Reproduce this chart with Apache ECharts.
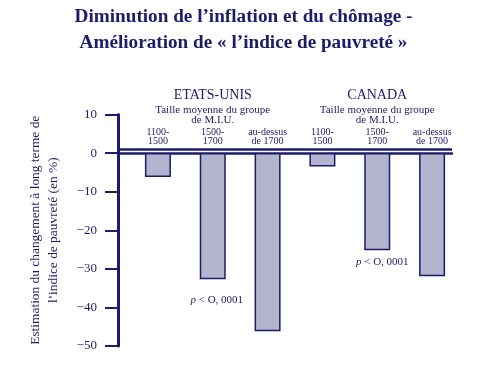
<!DOCTYPE html>
<html><head><meta charset="utf-8">
<script src="https://cdn.jsdelivr.net/npm/echarts@6/dist/echarts.min.js"></script>
<style>html,body{margin:0;padding:0;background:#fff}#c{width:487px;height:373px}</style>
</head><body><div id="c"></div>
<script>
const titleLines = ["Diminution de l’inflation et du chômage -", "Amélioration de « l’indice de pauvreté »"];
const countries = ["ETATS-UNIS", "CANADA"];
const groupSubtitle = ["Taille moyenne du groupe", "de M.I.U."];
const categories = ["1100-\n1500", "1500-\n1700", "au-dessus\nde 1700", "1100-\n1500", "1500-\n1700", "au-dessus\nde 1700"];
const values = [-6.2, -32.7, -46.2, -3.5, -25.2, -31.9];
const pNotes = ["", "p < O, 0001", "", "", "p < O, 0001", ""];
const yTicks = [10, 0, -10, -20, -30, -40, -50];
const yName = "Estimation du changement à long terme de\nl’indice de pauvreté (en %)";
const upperRule = 1.0;

const NAVY = '#1c1c6a';
const FONT = '"Liberation Serif", "DejaVu Serif", serif';
const noteGap = [0, 15, 0, 0, 6, 0];
const noteShift = [0, 4, 0, 0, 5, 0];

const chart = echarts.init(document.getElementById('c'), null, {renderer: 'canvas'});
const yMin = Math.min(...yTicks), yMax = Math.max(...yTicks);
const fmtY = v => v < 0 ? '−' + Math.abs(v) : String(v);

chart.setOption({
  backgroundColor: '#fff',
  animation: false,
  title: {
    text: titleLines.join('\n'),
    left: 'center', top: -1,
    textStyle: {fontFamily: FONT, fontWeight: 'bold', fontSize: 19.2, lineHeight: 26, color: NAVY}
  },
  grid: [
    {left: 118, right: 35, top: 114.5, bottom: 27},
    {left: 130.5, right: 27.5, top: 114.5, bottom: 27}
  ],
  xAxis: [
    {gridIndex: 0, type: 'value', min: 0, max: 1, axisLine: {onZero: true, lineStyle: {color: NAVY, width: 2.5}},
     axisTick: {show: false}, axisLabel: {show: false}, splitLine: {show: false}},
    {gridIndex: 1, type: 'category', data: categories, position: 'top', offset: -38.8,
     axisLine: {show: false}, axisTick: {show: false}, splitLine: {show: false},
     axisLabel: {margin: 7, interval: 0, fontFamily: FONT, fontSize: 10, lineHeight: 9, color: NAVY}},
    {gridIndex: 1, type: 'category', data: countries, position: 'top', offset: -13,
     axisLine: {show: false}, axisTick: {show: false}, splitLine: {show: false},
     axisLabel: {margin: 2, interval: 0, color: NAVY,
       formatter: v => '{c|' + v + '}\n' + groupSubtitle.map(s => '{s|' + s + '}').join('\n'),
       rich: {c: {fontFamily: FONT, fontSize: 14, lineHeight: 20, color: NAVY},
              s: {fontFamily: FONT, fontSize: 11, lineHeight: 10, color: NAVY}}}}
  ],
  yAxis: [
    {gridIndex: 0, type: 'value', min: yMin, max: yMax, interval: 10,
     axisLine: {show: true, lineStyle: {color: NAVY, width: 3}},
     axisTick: {show: true, length: 13, lineStyle: {color: NAVY, width: 2}},
     axisLabel: {margin: 21, formatter: fmtY, fontFamily: FONT, fontSize: 13, color: NAVY},
     splitLine: {show: false},
     name: yName, nameLocation: 'middle', nameRotate: 90, nameGap: 56,
     nameTextStyle: {fontFamily: FONT, fontSize: 13.4, lineHeight: 18, color: NAVY}},
    {gridIndex: 1, type: 'value', min: yMin, max: yMax, interval: 10, show: false}
  ],
  series: [
    {type: 'line', xAxisIndex: 0, yAxisIndex: 0, data: [], silent: true,
     markLine: {silent: true, symbol: 'none', label: {show: false},
       lineStyle: {color: NAVY, width: 2.5, type: 'solid'},
       data: [{yAxis: upperRule}]}},
    {type: 'bar', xAxisIndex: 1, yAxisIndex: 1, barWidth: 26,
     itemStyle: {color: '#b3b5cf', borderColor: NAVY, borderWidth: 1.5},
     data: values.map((v, i) => ({
       value: v,
       label: {show: !!pNotes[i], position: 'bottom', distance: noteGap[i], offset: [noteShift[i], 0],
         formatter: () => '{i|' + pNotes[i].charAt(0) + '}{n|' + pNotes[i].slice(1) + '}',
         rich: {i: {fontFamily: FONT, fontStyle: 'italic', fontSize: 11, color: NAVY},
                n: {fontFamily: FONT, fontSize: 11, color: NAVY}}}
     }))}
  ]
});
</script></body></html>
